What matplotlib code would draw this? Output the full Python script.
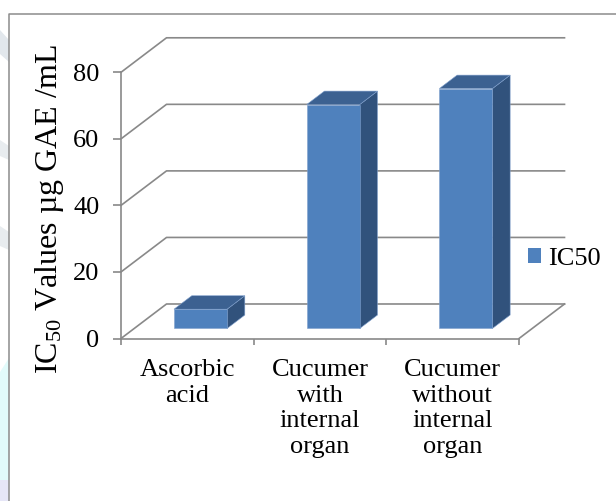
import matplotlib
matplotlib.use('Agg')
import matplotlib.pyplot as plt
from matplotlib.patches import Polygon, Patch
from matplotlib.lines import Line2D

plt.rcParams['font.family'] = ['Liberation Serif', 'DejaVu Serif']
plt.rcParams['mathtext.fontset'] = 'custom'
plt.rcParams['mathtext.rm'] = 'Liberation Serif'
plt.rcParams['mathtext.it'] = 'Liberation Serif:italic'

# data
categories = ['Ascorbic\nacid',
              'Cucumer\nwith\ninternal\norgan',
              'Cucumer\nwithout\ninternal\norgan']
ic50 = [5.8, 67.3, 72.1]
yticks = [0, 20, 40, 60, 80]
series_name = 'IC50'
ylabel = 'IC$_{50}$ Values µg GAE /mL'

# oblique 3-D box: full depth expressed as a shift in data units
DEPTH_X = 0.343
DEPTH_Y = 10.37
BAR_Z0, BAR_Z1 = 0.29, 0.68   # bar front / back as fraction of depth
BAR_W = 0.4

FRONT = '#4f81bd'
TOP = '#3c6191'
SIDE = '#31527c'
GRID = '#898989'
FS = 19


def proj(x, y, z):
    return (x + z * DEPTH_X, y + z * DEPTH_Y)


fig = plt.figure(figsize=(6.16, 5.01), dpi=100)
ax = fig.add_axes([121 / 616, 162.5 / 501, 398 / 616, 266.2 / 501])
ax.set_xlim(0, len(categories))
ax.set_ylim(0, 80)

# back wall gridlines, each with a diagonal down the left side wall
for v in yticks:
    p0 = proj(0, v, 0)
    p1 = proj(0, v, 1)
    p2 = proj(len(categories), v, 1)
    ax.plot([p0[0], p1[0], p2[0]], [p0[1], p1[1], p2[1]],
            color=GRID, lw=1.2, clip_on=False, zorder=1)
# right edge of the floor
f0 = proj(len(categories), 0, 0)
f1 = proj(len(categories), 0, 1)
ax.plot([f0[0], f1[0]], [f0[1], f1[1]], color=GRID, lw=1.2, clip_on=False, zorder=1)

# 3-D bars: front, side and top faces
for i, v in enumerate(ic50):
    x0 = i + 0.5 - BAR_W / 2
    x1 = i + 0.5 + BAR_W / 2
    front = [proj(x0, 0, BAR_Z0), proj(x1, 0, BAR_Z0),
             proj(x1, v, BAR_Z0), proj(x0, v, BAR_Z0)]
    side = [proj(x1, 0, BAR_Z0), proj(x1, 0, BAR_Z1),
            proj(x1, v, BAR_Z1), proj(x1, v, BAR_Z0)]
    top = [proj(x0, v, BAR_Z0), proj(x1, v, BAR_Z0),
           proj(x1, v, BAR_Z1), proj(x0, v, BAR_Z1)]
    for pts, c in [(side, SIDE), (top, TOP), (front, FRONT)]:
        ax.add_patch(Polygon(pts, closed=True, facecolor=c, edgecolor='#7f9fcc',
                             lw=0.4, clip_on=False, zorder=3))

for s in ['top', 'right']:
    ax.spines[s].set_visible(False)
for s in ['left', 'bottom']:
    ax.spines[s].set_color(GRID)
    ax.spines[s].set_linewidth(1.2)
    ax.spines[s].set_zorder(2)

ax.set_yticks(yticks)
ax.tick_params(axis='y', direction='out', length=5.5, width=1.2, color=GRID,
               labelsize=FS, pad=10)
ax.set_xticks([i + 0.5 for i in range(len(categories))])
ax.set_xticklabels(categories, fontsize=FS, linespacing=1.2)
ax.set_xticks(range(len(categories) + 1), minor=True)
ax.tick_params(axis='x', which='major', length=0, pad=15)
ax.tick_params(axis='x', which='minor', direction='out', length=4.5, width=1.2,
               color=GRID)
ax.patch.set_visible(False)

fig.text(50 / 616, 1 - 209 / 501, ylabel, rotation=90, ha='center', va='center',
         fontsize=23)

ax.legend(handles=[Patch(facecolor=FRONT, edgecolor='none')], labels=[series_name],
          loc='center left', bbox_to_anchor=(528 / 616, 1 - 259 / 501),
          bbox_transform=fig.transFigure, frameon=False, fontsize=FS,
          handlelength=0.48, handleheight=0.48, handletextpad=0.3,
          borderpad=0, borderaxespad=0)

# chart frame (left and top edges visible)
fig.add_artist(Line2D([9 / 616, 9 / 616, 1], [0, 1 - 14 / 501, 1 - 14 / 501],
                      transform=fig.transFigure, color='#8c8c8c', lw=1.1))

# faint page watermark at the far left
for pts, c in [([(0, 30), (9, 40), (9, 62), (0, 54)], '#e2e7ec'),
               ([(0, 140), (9, 146), (9, 160), (0, 156)], '#e8ecef'),
               ([(0, 226), (9, 232), (9, 250), (0, 246)], '#e8ecef'),
               ([(0, 372), (9, 358), (9, 480), (0, 480)], '#e2fbfb'),
               ([(0, 480), (9, 480), (9, 501), (0, 501)], '#e6e6f7')]:
    fig.add_artist(Polygon([(x / 616, 1 - y / 501) for x, y in pts], closed=True,
                           transform=fig.transFigure, facecolor=c, edgecolor='none',
                           zorder=0))

fig.savefig('out.png', dpi=100)
